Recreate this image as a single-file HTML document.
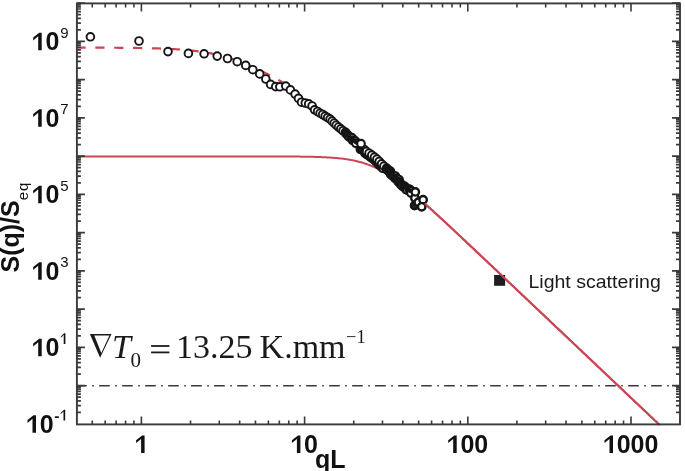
<!DOCTYPE html><html><head><meta charset="utf-8"><style>html,body{margin:0;padding:0;background:#fff;}svg{display:block;filter:blur(0.4px);}</style></head><body><svg width="685" height="471" viewBox="0 0 685 471">
<rect width="685" height="471" fill="#fff"/>
<line x1="76.9" y1="385.7" x2="680" y2="385.7" stroke="#3a3a3a" stroke-width="1.6" stroke-dasharray="10.6 5.5 1.6 5.3" stroke-dashoffset="23.75"/>
<path d="M77.80,47.64 L78.80,47.64 L79.80,47.64 L80.80,47.64 L81.80,47.64 L82.80,47.64 L83.80,47.65 L84.80,47.65 L85.80,47.65 L86.80,47.65 L87.80,47.65 L88.80,47.66 L89.80,47.66 L90.80,47.66 L91.80,47.66 L92.80,47.67 L93.80,47.67 L94.80,47.67 L95.80,47.67 L96.80,47.68 L97.80,47.68 L98.80,47.68 L99.80,47.69 L100.80,47.69 L101.80,47.69 L102.80,47.70 L103.80,47.70 L104.80,47.70 L105.80,47.71 L106.80,47.71 L107.80,47.72 L108.80,47.72 L109.80,47.73 L110.80,47.73 L111.80,47.74 L112.80,47.74 L113.80,47.75 L114.80,47.76 L115.80,47.76 L116.80,47.77 L117.80,47.77 L118.80,47.78 L119.80,47.79 L120.80,47.80 L121.80,47.80 L122.80,47.81 L123.80,47.82 L124.80,47.83 L125.80,47.84 L126.80,47.85 L127.80,47.86 L128.80,47.87 L129.80,47.88 L130.80,47.89 L131.80,47.90 L132.80,47.91 L133.80,47.93 L134.80,47.94 L135.80,47.95 L136.80,47.97 L137.80,47.98 L138.80,48.00 L139.80,48.01 L140.80,48.03 L141.80,48.05 L142.80,48.06 L143.80,48.08 L144.80,48.10 L145.80,48.12 L146.80,48.14 L147.80,48.16 L148.80,48.19 L149.80,48.21 L150.80,48.23 L151.80,48.26 L152.80,48.28 L153.80,48.31 L154.80,48.34 L155.80,48.37 L156.80,48.40 L157.80,48.43 L158.80,48.46 L159.80,48.50 L160.80,48.53 L161.80,48.57 L162.80,48.61 L163.80,48.65 L164.80,48.69 L165.80,48.73 L166.80,48.77 L167.80,48.82 L168.80,48.87 L169.80,48.91 L170.80,48.97 L171.80,49.02 L172.80,49.07 L173.80,49.13 L174.80,49.19 L175.80,49.25 L176.80,49.31 L177.80,49.38 L178.80,49.45 L179.80,49.52 L180.80,49.59 L181.80,49.66 L182.80,49.74 L183.80,49.82 L184.80,49.91 L185.80,49.99 L186.80,50.08 L187.80,50.18 L188.80,50.27 L189.80,50.37 L190.80,50.47 L191.80,50.58 L192.80,50.69 L193.80,50.80 L194.80,50.92 L195.80,51.04 L196.80,51.16 L197.80,51.29 L198.80,51.43 L199.80,51.56 L200.80,51.70 L201.80,51.85 L202.80,52.00 L203.80,52.16 L204.80,52.32 L205.80,52.48 L206.80,52.65 L207.80,52.82 L208.80,53.00 L209.80,53.19 L210.80,53.38 L211.80,53.57 L212.80,53.77 L213.80,53.98 L214.80,54.19 L215.80,54.41 L216.80,54.64 L217.80,54.86 L218.80,55.10 L219.80,55.34 L220.80,55.59 L221.80,55.84 L222.80,56.10 L223.80,56.37 L224.80,56.64 L225.80,56.92 L226.80,57.20 L227.80,57.50 L228.80,57.79 L229.80,58.10 L230.80,58.41 L231.80,58.73 L232.80,59.05 L233.80,59.38 L234.80,59.72 L235.80,60.06 L236.80,60.41 L237.80,60.76 L238.80,61.13 L239.80,61.50 L240.80,61.87 L241.80,62.25 L242.80,62.64 L243.80,63.03 L244.80,63.43 L245.80,63.84 L246.80,64.25 L247.80,64.67 L248.80,65.09 L249.80,65.53 L250.80,65.96 L251.80,66.40 L252.80,66.85 L253.80,67.30 L254.80,67.76 L255.80,68.23 L256.80,68.70 L257.80,69.17 L258.80,69.65 L259.80,70.13 L260.80,70.62 L261.80,71.12 L262.80,71.62 L263.80,72.12 L264.80,72.63 L265.80,73.14 L266.80,73.66 L267.80,74.18 L268.80,74.71 L269.80,75.24 L270.80,75.77 L271.80,76.31 L272.80,76.85 L273.80,77.40 L274.80,77.95 L275.80,78.50 L276.80,79.05 L277.80,79.61 L278.80,80.18 L279.80,80.74 L280.80,81.31 L281.80,81.88 L282.80,82.46 L283.80,83.03 L284.80,83.61 L285.80,84.19" fill="none" stroke="#cb4654" stroke-width="2.2" stroke-dasharray="9.2 9.67" stroke-dashoffset="1.37"/>
<path d="M77.80,156.40 L78.80,156.40 L79.80,156.40 L80.80,156.40 L81.80,156.40 L82.80,156.40 L83.80,156.40 L84.80,156.40 L85.80,156.40 L86.80,156.40 L87.80,156.40 L88.80,156.40 L89.80,156.40 L90.80,156.40 L91.80,156.40 L92.80,156.40 L93.80,156.40 L94.80,156.40 L95.80,156.40 L96.80,156.40 L97.80,156.40 L98.80,156.40 L99.80,156.40 L100.80,156.40 L101.80,156.40 L102.80,156.40 L103.80,156.40 L104.80,156.40 L105.80,156.40 L106.80,156.40 L107.80,156.40 L108.80,156.40 L109.80,156.40 L110.80,156.40 L111.80,156.40 L112.80,156.40 L113.80,156.40 L114.80,156.40 L115.80,156.40 L116.80,156.40 L117.80,156.40 L118.80,156.40 L119.80,156.40 L120.80,156.40 L121.80,156.40 L122.80,156.40 L123.80,156.40 L124.80,156.40 L125.80,156.40 L126.80,156.40 L127.80,156.40 L128.80,156.40 L129.80,156.40 L130.80,156.40 L131.80,156.40 L132.80,156.40 L133.80,156.40 L134.80,156.40 L135.80,156.40 L136.80,156.40 L137.80,156.40 L138.80,156.40 L139.80,156.40 L140.80,156.40 L141.80,156.40 L142.80,156.40 L143.80,156.40 L144.80,156.40 L145.80,156.40 L146.80,156.40 L147.80,156.40 L148.80,156.40 L149.80,156.40 L150.80,156.40 L151.80,156.40 L152.80,156.40 L153.80,156.40 L154.80,156.40 L155.80,156.40 L156.80,156.40 L157.80,156.40 L158.80,156.40 L159.80,156.40 L160.80,156.40 L161.80,156.40 L162.80,156.40 L163.80,156.40 L164.80,156.40 L165.80,156.40 L166.80,156.40 L167.80,156.40 L168.80,156.40 L169.80,156.40 L170.80,156.40 L171.80,156.40 L172.80,156.40 L173.80,156.40 L174.80,156.40 L175.80,156.40 L176.80,156.40 L177.80,156.40 L178.80,156.40 L179.80,156.40 L180.80,156.40 L181.80,156.40 L182.80,156.40 L183.80,156.40 L184.80,156.40 L185.80,156.40 L186.80,156.40 L187.80,156.40 L188.80,156.40 L189.80,156.40 L190.80,156.40 L191.80,156.40 L192.80,156.40 L193.80,156.40 L194.80,156.40 L195.80,156.40 L196.80,156.40 L197.80,156.40 L198.80,156.40 L199.80,156.40 L200.80,156.40 L201.80,156.40 L202.80,156.40 L203.80,156.40 L204.80,156.40 L205.80,156.40 L206.80,156.40 L207.80,156.40 L208.80,156.40 L209.80,156.40 L210.80,156.40 L211.80,156.40 L212.80,156.40 L213.80,156.40 L214.80,156.40 L215.80,156.40 L216.80,156.40 L217.80,156.40 L218.80,156.40 L219.80,156.40 L220.80,156.40 L221.80,156.40 L222.80,156.40 L223.80,156.40 L224.80,156.40 L225.80,156.40 L226.80,156.40 L227.80,156.40 L228.80,156.40 L229.80,156.40 L230.80,156.40 L231.80,156.40 L232.80,156.40 L233.80,156.41 L234.80,156.41 L235.80,156.41 L236.80,156.41 L237.80,156.41 L238.80,156.41 L239.80,156.41 L240.80,156.41 L241.80,156.41 L242.80,156.41 L243.80,156.41 L244.80,156.41 L245.80,156.41 L246.80,156.41 L247.80,156.41 L248.80,156.41 L249.80,156.41 L250.80,156.41 L251.80,156.41 L252.80,156.41 L253.80,156.42 L254.80,156.42 L255.80,156.42 L256.80,156.42 L257.80,156.42 L258.80,156.42 L259.80,156.42 L260.80,156.42 L261.80,156.42 L262.80,156.43 L263.80,156.43 L264.80,156.43 L265.80,156.43 L266.80,156.43 L267.80,156.43 L268.80,156.44 L269.80,156.44 L270.80,156.44 L271.80,156.44 L272.80,156.45 L273.80,156.45 L274.80,156.45 L275.80,156.45 L276.80,156.46 L277.80,156.46 L278.80,156.47 L279.80,156.47 L280.80,156.47 L281.80,156.48 L282.80,156.48 L283.80,156.49 L284.80,156.49 L285.80,156.50 L286.80,156.50 L287.80,156.51 L288.80,156.51 L289.80,156.52 L290.80,156.53 L291.80,156.54 L292.80,156.54 L293.80,156.55 L294.80,156.56 L295.80,156.57 L296.80,156.58 L297.80,156.59 L298.80,156.60 L299.80,156.61 L300.80,156.63 L301.80,156.64 L302.80,156.65 L303.80,156.67 L304.80,156.68 L305.80,156.70 L306.80,156.72 L307.80,156.74 L308.80,156.76 L309.80,156.78 L310.80,156.80 L311.80,156.82 L312.80,156.85 L313.80,156.87 L314.80,156.90 L315.80,156.93 L316.80,156.96 L317.80,156.99 L318.80,157.03 L319.80,157.06 L320.80,157.10 L321.80,157.14 L322.80,157.18 L323.80,157.23 L324.80,157.27 L325.80,157.32 L326.80,157.38 L327.80,157.43 L328.80,157.49 L329.80,157.55 L330.80,157.62 L331.80,157.69 L332.80,157.76 L333.80,157.84 L334.80,157.92 L335.80,158.00 L336.80,158.09 L337.80,158.18 L338.80,158.28 L339.80,158.39 L340.80,158.50 L341.80,158.61 L342.80,158.73 L343.80,158.86 L344.80,158.99 L345.80,159.13 L346.80,159.28 L347.80,159.43 L348.80,159.60 L349.80,159.77 L350.80,159.94 L351.80,160.13 L352.80,160.32 L353.80,160.53 L354.80,160.74 L355.80,160.96 L356.80,161.20 L357.80,161.44 L358.80,161.69 L359.80,161.96 L360.80,162.23 L361.80,162.52 L362.80,162.81 L363.80,163.12 L364.80,163.44 L365.80,163.78 L366.80,164.12 L367.80,164.48 L368.80,164.85 L369.80,165.24 L370.80,165.63 L371.80,166.04 L372.80,166.47 L373.80,166.91 L374.80,167.36 L375.80,167.82 L376.80,168.30 L377.80,168.79 L378.80,169.29 L379.80,169.81 L380.80,170.34 L381.80,170.89 L382.80,171.44 L383.80,172.01 L384.80,172.60 L385.80,173.19 L386.80,173.80 L387.80,174.42 L388.80,175.06 L389.80,175.70 L390.80,176.36 L391.80,177.02 L392.80,177.70 L393.80,178.39 L394.80,179.09 L395.80,179.80 L396.80,180.52 L397.80,181.25 L398.80,181.99 L399.80,182.74 L400.80,183.50 L401.80,184.27 L402.80,185.04 L403.80,185.82 L404.80,186.61 L405.80,187.41 L406.80,188.21 L407.80,189.02 L408.80,189.84 L409.80,190.66 L410.80,191.49 L411.80,192.33 L412.80,193.17 L413.80,194.01 L414.80,194.87 L415.80,195.72 L416.80,196.58 L417.80,197.45 L418.80,198.32 L419.80,199.19 L420.80,200.06 L421.80,200.94 L422.80,201.83 L423.80,202.72 L424.80,203.61 L425.80,204.50 L426.80,205.39 L427.80,206.29 L428.80,207.19 L429.80,208.10 L430.80,209.00 L431.80,209.91 L432.80,210.82 L433.80,211.73 L434.80,212.65 L435.80,213.56 L436.80,214.48 L437.80,215.40 L438.80,216.32 L439.80,217.24 L440.80,218.17 L441.80,219.09 L442.80,220.02 L443.80,220.94 L444.80,221.87 L445.80,222.80 L446.80,223.73 L447.80,224.66 L448.80,225.59 L449.80,226.53 L450.80,227.46 L451.80,228.39 L452.80,229.33 L453.80,230.26 L454.80,231.20 L455.80,232.14 L456.80,233.07 L457.80,234.01 L458.80,234.95 L459.80,235.89 L460.80,236.83 L461.80,237.77 L462.80,238.71 L463.80,239.65 L464.80,240.59 L465.80,241.53 L466.80,242.47 L467.80,243.41 L468.80,244.35 L469.80,245.30 L470.80,246.24 L471.80,247.18 L472.80,248.12 L473.80,249.07 L474.80,250.01 L475.80,250.95 L476.80,251.90 L477.80,252.84 L478.80,253.79 L479.80,254.73 L480.80,255.67 L481.80,256.62 L482.80,257.56 L483.80,258.51 L484.80,259.45 L485.80,260.40 L486.80,261.34 L487.80,262.29 L488.80,263.23 L489.80,264.18 L490.80,265.13 L491.80,266.07 L492.80,267.02 L493.80,267.96 L494.80,268.91 L495.80,269.85 L496.80,270.80 L497.80,271.75 L498.80,272.69 L499.80,273.64 L500.80,274.58 L501.80,275.53 L502.80,276.48 L503.80,277.42 L504.80,278.37 L505.80,279.31 L506.80,280.26 L507.80,281.21 L508.80,282.15 L509.80,283.10 L510.80,284.05 L511.80,284.99 L512.80,285.94 L513.80,286.89 L514.80,287.83 L515.80,288.78 L516.80,289.73 L517.80,290.67 L518.80,291.62 L519.80,292.57 L520.80,293.51 L521.80,294.46 L522.80,295.41 L523.80,296.35 L524.80,297.30 L525.80,298.25 L526.80,299.19 L527.80,300.14 L528.80,301.09 L529.80,302.03 L530.80,302.98 L531.80,303.93 L532.80,304.87 L533.80,305.82 L534.80,306.77 L535.80,307.71 L536.80,308.66 L537.80,309.61 L538.80,310.55 L539.80,311.50 L540.80,312.45 L541.80,313.39 L542.80,314.34 L543.80,315.29 L544.80,316.23 L545.80,317.18 L546.80,318.13 L547.80,319.07 L548.80,320.02 L549.80,320.97 L550.80,321.91 L551.80,322.86 L552.80,323.81 L553.80,324.76 L554.80,325.70 L555.80,326.65 L556.80,327.60 L557.80,328.54 L558.80,329.49 L559.80,330.44 L560.80,331.38 L561.80,332.33 L562.80,333.28 L563.80,334.22 L564.80,335.17 L565.80,336.12 L566.80,337.06 L567.80,338.01 L568.80,338.96 L569.80,339.90 L570.80,340.85 L571.80,341.80 L572.80,342.75 L573.80,343.69 L574.80,344.64 L575.80,345.59 L576.80,346.53 L577.80,347.48 L578.80,348.43 L579.80,349.37 L580.80,350.32 L581.80,351.27 L582.80,352.21 L583.80,353.16 L584.80,354.11 L585.80,355.05 L586.80,356.00 L587.80,356.95 L588.80,357.90 L589.80,358.84 L590.80,359.79 L591.80,360.74 L592.80,361.68 L593.80,362.63 L594.80,363.58 L595.80,364.52 L596.80,365.47 L597.80,366.42 L598.80,367.36 L599.80,368.31 L600.80,369.26 L601.80,370.20 L602.80,371.15 L603.80,372.10 L604.80,373.05 L605.80,373.99 L606.80,374.94 L607.80,375.89 L608.80,376.83 L609.80,377.78 L610.80,378.73 L611.80,379.67 L612.80,380.62 L613.80,381.57 L614.80,382.51 L615.80,383.46 L616.80,384.41 L617.80,385.35 L618.80,386.30 L619.80,387.25 L620.80,388.20 L621.80,389.14 L622.80,390.09 L623.80,391.04 L624.80,391.98 L625.80,392.93 L626.80,393.88 L627.80,394.82 L628.80,395.77 L629.80,396.72 L630.80,397.66 L631.80,398.61 L632.80,399.56 L633.80,400.50 L634.80,401.45 L635.80,402.40 L636.80,403.35 L637.80,404.29 L638.80,405.24 L639.80,406.19 L640.80,407.13 L641.80,408.08 L642.80,409.03 L643.80,409.97 L644.80,410.92 L645.80,411.87 L646.80,412.81 L647.80,413.76 L648.80,414.71 L649.80,415.65 L650.80,416.60 L651.80,417.55 L652.80,418.50 L653.80,419.44 L654.80,420.39 L655.80,421.34 L656.80,422.28 L657.80,423.23 L658.80,424.18 L659.80,424.40" fill="none" stroke="#cb4654" stroke-width="2"/>
<circle cx="90.40" cy="36.80" r="3.85" fill="#fff" stroke="#151515" stroke-width="1.9"/>
<circle cx="139.00" cy="41.00" r="3.85" fill="#fff" stroke="#151515" stroke-width="1.9"/>
<circle cx="168.00" cy="51.60" r="3.85" fill="#fff" stroke="#151515" stroke-width="1.9"/>
<circle cx="188.40" cy="53.40" r="3.85" fill="#fff" stroke="#151515" stroke-width="1.9"/>
<circle cx="204.10" cy="53.80" r="3.85" fill="#fff" stroke="#151515" stroke-width="1.9"/>
<circle cx="217.20" cy="56.10" r="3.85" fill="#fff" stroke="#151515" stroke-width="1.9"/>
<circle cx="227.50" cy="58.50" r="3.85" fill="#fff" stroke="#151515" stroke-width="1.9"/>
<circle cx="237.20" cy="61.70" r="3.85" fill="#fff" stroke="#151515" stroke-width="1.9"/>
<circle cx="245.70" cy="65.40" r="3.85" fill="#fff" stroke="#151515" stroke-width="1.9"/>
<circle cx="252.80" cy="69.70" r="3.85" fill="#fff" stroke="#151515" stroke-width="1.9"/>
<circle cx="259.70" cy="73.90" r="3.85" fill="#fff" stroke="#151515" stroke-width="1.9"/>
<circle cx="265.80" cy="79.00" r="3.85" fill="#fff" stroke="#151515" stroke-width="1.9"/>
<circle cx="270.60" cy="84.40" r="3.85" fill="#fff" stroke="#151515" stroke-width="1.9"/>
<circle cx="275.70" cy="86.60" r="3.85" fill="#fff" stroke="#151515" stroke-width="1.9"/>
<circle cx="279.80" cy="86.80" r="3.85" fill="#fff" stroke="#151515" stroke-width="1.9"/>
<circle cx="285.80" cy="86.10" r="3.85" fill="#fff" stroke="#151515" stroke-width="1.9"/>
<circle cx="290.40" cy="89.90" r="3.85" fill="#fff" stroke="#151515" stroke-width="1.9"/>
<circle cx="295.10" cy="94.10" r="3.85" fill="#fff" stroke="#151515" stroke-width="1.9"/>
<circle cx="298.50" cy="98.40" r="3.85" fill="#fff" stroke="#151515" stroke-width="1.9"/>
<circle cx="301.50" cy="102.20" r="3.85" fill="#fff" stroke="#151515" stroke-width="1.9"/>
<circle cx="305.30" cy="103.00" r="3.85" fill="#fff" stroke="#151515" stroke-width="1.9"/>
<circle cx="308.70" cy="103.90" r="3.85" fill="#fff" stroke="#151515" stroke-width="1.9"/>
<circle cx="312.10" cy="106.00" r="3.85" fill="#fff" stroke="#151515" stroke-width="1.9"/>
<circle cx="314.60" cy="109.80" r="3.85" fill="#fff" stroke="#151515" stroke-width="1.9"/>
<circle cx="317.60" cy="111.50" r="3.85" fill="#fff" stroke="#151515" stroke-width="1.9"/>
<circle cx="320.10" cy="113.20" r="3.85" fill="#fff" stroke="#151515" stroke-width="1.9"/>
<circle cx="322.69" cy="114.50" r="3.85" fill="#fff" stroke="#151515" stroke-width="1.9"/>
<circle cx="325.13" cy="116.08" r="3.85" fill="#fff" stroke="#151515" stroke-width="1.9"/>
<circle cx="327.61" cy="117.57" r="3.85" fill="#fff" stroke="#151515" stroke-width="1.9"/>
<circle cx="330.08" cy="119.08" r="3.85" fill="#fff" stroke="#151515" stroke-width="1.9"/>
<circle cx="332.13" cy="121.13" r="3.85" fill="#fff" stroke="#151515" stroke-width="1.9"/>
<circle cx="334.18" cy="123.18" r="3.85" fill="#fff" stroke="#151515" stroke-width="1.9"/>
<circle cx="336.26" cy="125.21" r="3.85" fill="#fff" stroke="#151515" stroke-width="1.9"/>
<circle cx="338.52" cy="127.02" r="3.85" fill="#fff" stroke="#151515" stroke-width="1.9"/>
<circle cx="340.79" cy="128.83" r="3.85" fill="#fff" stroke="#151515" stroke-width="1.9"/>
<circle cx="342.97" cy="130.74" r="3.85" fill="#fff" stroke="#151515" stroke-width="1.9"/>
<circle cx="345.50" cy="132.26" r="3.8" fill="#fff" stroke="#151515" stroke-width="2.1"/>
<circle cx="346.19" cy="133.73" r="3.8" fill="#fff" stroke="#151515" stroke-width="2.1"/>
<circle cx="347.49" cy="134.56" r="3.8" fill="#fff" stroke="#151515" stroke-width="2.1"/>
<circle cx="348.20" cy="135.96" r="3.8" fill="#fff" stroke="#151515" stroke-width="2.1"/>
<circle cx="349.22" cy="137.06" r="3.8" fill="#fff" stroke="#151515" stroke-width="2.1"/>
<circle cx="351.06" cy="137.23" r="3.8" fill="#fff" stroke="#151515" stroke-width="2.1"/>
<circle cx="352.28" cy="138.08" r="3.8" fill="#fff" stroke="#151515" stroke-width="2.1"/>
<circle cx="352.42" cy="140.30" r="3.8" fill="#fff" stroke="#151515" stroke-width="2.1"/>
<circle cx="354.31" cy="140.33" r="3.8" fill="#fff" stroke="#151515" stroke-width="2.1"/>
<circle cx="355.51" cy="141.21" r="3.8" fill="#fff" stroke="#151515" stroke-width="2.1"/>
<circle cx="355.85" cy="143.31" r="3.8" fill="#fff" stroke="#151515" stroke-width="2.1"/>
<circle cx="360.40" cy="149.40" r="3.8" fill="#fff" stroke="#151515" stroke-width="2.1"/>
<circle cx="364.82" cy="153.09" r="3.8" fill="#fff" stroke="#151515" stroke-width="2.1"/>
<circle cx="366.52" cy="154.28" r="3.8" fill="#fff" stroke="#151515" stroke-width="2.1"/>
<circle cx="363.81" cy="149.18" r="3.85" fill="#fff" stroke="#151515" stroke-width="1.9"/>
<circle cx="368.16" cy="155.43" r="3.8" fill="#fff" stroke="#151515" stroke-width="2.1"/>
<circle cx="366.36" cy="151.36" r="3.85" fill="#fff" stroke="#151515" stroke-width="1.9"/>
<circle cx="369.80" cy="156.58" r="3.8" fill="#fff" stroke="#151515" stroke-width="2.1"/>
<circle cx="371.43" cy="157.72" r="3.8" fill="#fff" stroke="#151515" stroke-width="2.1"/>
<circle cx="369.07" cy="153.26" r="3.85" fill="#fff" stroke="#151515" stroke-width="1.9"/>
<circle cx="373.07" cy="158.87" r="3.8" fill="#fff" stroke="#151515" stroke-width="2.1"/>
<circle cx="371.77" cy="155.15" r="3.85" fill="#fff" stroke="#151515" stroke-width="1.9"/>
<circle cx="374.40" cy="159.86" r="3.8" fill="#fff" stroke="#151515" stroke-width="2.1"/>
<circle cx="375.71" cy="161.17" r="3.8" fill="#fff" stroke="#151515" stroke-width="2.1"/>
<circle cx="374.47" cy="157.04" r="3.85" fill="#fff" stroke="#151515" stroke-width="1.9"/>
<circle cx="377.12" cy="162.58" r="3.8" fill="#fff" stroke="#151515" stroke-width="2.1"/>
<circle cx="378.54" cy="164.00" r="3.8" fill="#fff" stroke="#151515" stroke-width="2.1"/>
<circle cx="376.91" cy="159.12" r="3.85" fill="#fff" stroke="#151515" stroke-width="1.9"/>
<circle cx="379.95" cy="165.41" r="3.8" fill="#fff" stroke="#151515" stroke-width="2.1"/>
<circle cx="381.36" cy="166.82" r="3.8" fill="#fff" stroke="#151515" stroke-width="2.1"/>
<circle cx="379.24" cy="161.45" r="3.85" fill="#fff" stroke="#151515" stroke-width="1.9"/>
<circle cx="382.78" cy="168.24" r="3.8" fill="#fff" stroke="#151515" stroke-width="2.1"/>
<circle cx="381.58" cy="163.78" r="3.85" fill="#fff" stroke="#151515" stroke-width="1.9"/>
<circle cx="383.91" cy="166.12" r="3.85" fill="#fff" stroke="#151515" stroke-width="1.9"/>
<circle cx="386.61" cy="168.09" r="3.8" fill="#fff" stroke="#151515" stroke-width="2.1"/>
<circle cx="386.67" cy="169.62" r="3.8" fill="#fff" stroke="#151515" stroke-width="2.1"/>
<circle cx="388.17" cy="169.92" r="3.8" fill="#fff" stroke="#151515" stroke-width="2.1"/>
<circle cx="388.63" cy="171.10" r="3.8" fill="#fff" stroke="#151515" stroke-width="2.1"/>
<circle cx="390.37" cy="171.18" r="3.8" fill="#fff" stroke="#151515" stroke-width="2.1"/>
<circle cx="390.21" cy="172.92" r="3.8" fill="#fff" stroke="#151515" stroke-width="2.1"/>
<circle cx="390.58" cy="174.24" r="3.8" fill="#fff" stroke="#151515" stroke-width="2.1"/>
<circle cx="392.08" cy="174.47" r="3.8" fill="#fff" stroke="#151515" stroke-width="2.1"/>
<circle cx="392.53" cy="175.71" r="3.8" fill="#fff" stroke="#151515" stroke-width="2.1"/>
<circle cx="393.50" cy="176.43" r="3.8" fill="#fff" stroke="#151515" stroke-width="2.1"/>
<circle cx="395.47" cy="176.17" r="3.8" fill="#fff" stroke="#151515" stroke-width="2.1"/>
<circle cx="395.04" cy="178.29" r="3.8" fill="#fff" stroke="#151515" stroke-width="2.1"/>
<circle cx="396.20" cy="178.83" r="3.8" fill="#fff" stroke="#151515" stroke-width="2.1"/>
<circle cx="397.58" cy="179.15" r="3.8" fill="#fff" stroke="#151515" stroke-width="2.1"/>
<circle cx="398.92" cy="179.50" r="3.8" fill="#fff" stroke="#151515" stroke-width="2.1"/>
<circle cx="398.24" cy="181.88" r="3.8" fill="#fff" stroke="#151515" stroke-width="2.1"/>
<circle cx="399.81" cy="182.01" r="3.8" fill="#fff" stroke="#151515" stroke-width="2.1"/>
<circle cx="400.21" cy="183.31" r="3.8" fill="#fff" stroke="#151515" stroke-width="2.1"/>
<circle cx="400.76" cy="184.46" r="3.8" fill="#fff" stroke="#151515" stroke-width="2.1"/>
<circle cx="401.94" cy="185.00" r="3.8" fill="#fff" stroke="#151515" stroke-width="2.1"/>
<circle cx="402.48" cy="186.20" r="3.8" fill="#fff" stroke="#151515" stroke-width="2.1"/>
<circle cx="404.29" cy="185.99" r="3.8" fill="#fff" stroke="#151515" stroke-width="2.1"/>
<circle cx="404.47" cy="187.58" r="3.8" fill="#fff" stroke="#151515" stroke-width="2.1"/>
<circle cx="405.98" cy="187.69" r="3.8" fill="#fff" stroke="#151515" stroke-width="2.1"/>
<circle cx="406.06" cy="189.48" r="3.8" fill="#fff" stroke="#151515" stroke-width="2.1"/>
<circle cx="407.17" cy="190.12" r="3.8" fill="#fff" stroke="#151515" stroke-width="2.1"/>
<circle cx="409.32" cy="189.15" r="3.8" fill="#fff" stroke="#151515" stroke-width="2.1"/>
<circle cx="410.25" cy="189.92" r="3.8" fill="#fff" stroke="#151515" stroke-width="2.1"/>
<circle cx="411.11" cy="190.78" r="3.8" fill="#fff" stroke="#151515" stroke-width="2.1"/>
<circle cx="410.98" cy="193.06" r="3.8" fill="#fff" stroke="#151515" stroke-width="2.1"/>
<path d="M345.22,132.72 L345.98,133.38 L346.68,134.09 L347.37,134.81 L348.07,135.52 L348.77,136.24 L349.47,136.96 L350.19,137.65 L350.97,138.27 L351.75,138.90 L352.53,139.52 L353.31,140.15 L354.09,140.77 L354.87,141.40 L355.69,141.98 L356.50,142.55 L357.32,143.13" fill="none" stroke="#151515" stroke-width="4.2" stroke-linecap="round"/>
<path d="M387.47,169.20 L388.12,169.96 L388.77,170.72 L389.42,171.47 L390.08,172.23 L390.73,172.99 L391.42,173.72 L392.12,174.42 L392.83,175.13 L393.54,175.84 L394.24,176.54 L394.95,177.25 L395.66,177.96 L396.37,178.67 L397.07,179.37 L397.78,180.08 L398.49,180.79 L399.19,181.49 L399.90,182.20 L400.61,182.91 L401.31,183.61 L402.02,184.32 L402.77,184.99 L403.51,185.66 L404.25,186.33 L405.00,187.00 L405.74,187.67 L406.48,188.33 L407.25,188.97 L408.07,189.55 L408.89,190.12 L409.71,190.69" fill="none" stroke="#151515" stroke-width="4.2" stroke-linecap="round"/>
<circle cx="361.00" cy="143.70" r="3.8" fill="#fff" stroke="#151515" stroke-width="2.1"/>
<circle cx="360.2" cy="150.2" r="3.6" fill="#151515"/>
<circle cx="414.60" cy="205.50" r="3.7" fill="#222" stroke="#151515" stroke-width="2.4"/>
<circle cx="414.90" cy="198.00" r="3.7" fill="#fff" stroke="#151515" stroke-width="2.4"/>
<circle cx="418.30" cy="202.20" r="3.7" fill="#fff" stroke="#151515" stroke-width="2.4"/>
<circle cx="415.30" cy="191.90" r="3.7" fill="#fff" stroke="#151515" stroke-width="2.4"/>
<circle cx="423.10" cy="199.70" r="3.7" fill="#fff" stroke="#151515" stroke-width="2.4"/>
<circle cx="421.70" cy="206.80" r="3.7" fill="#fff" stroke="#151515" stroke-width="2.4"/>
<rect x="494.1" y="275" width="11" height="10.8" fill="#1e1e1e"/>
<path d="M424.80,203.61 L425.80,204.50 L426.80,205.39 L427.80,206.29 L428.80,207.19 L429.80,208.10 L430.80,209.00 L431.80,209.91 L432.80,210.82 L433.80,211.73 L434.80,212.65 L435.80,213.56 L436.80,214.48 L437.80,215.40 L438.80,216.32 L439.80,217.24 L440.80,218.17 L441.80,219.09 L442.80,220.02 L443.80,220.94 L444.80,221.87 L445.80,222.80 L446.80,223.73 L447.80,224.66 L448.80,225.59 L449.80,226.53 L450.80,227.46 L451.80,228.39 L452.80,229.33 L453.80,230.26 L454.80,231.20 L455.80,232.14 L456.80,233.07 L457.80,234.01 L458.80,234.95 L459.80,235.89 L460.80,236.83 L461.80,237.77 L462.80,238.71 L463.80,239.65 L464.80,240.59 L465.80,241.53 L466.80,242.47 L467.80,243.41 L468.80,244.35 L469.80,245.30 L470.80,246.24 L471.80,247.18 L472.80,248.12 L473.80,249.07 L474.80,250.01 L475.80,250.95 L476.80,251.90 L477.80,252.84 L478.80,253.79 L479.80,254.73 L480.80,255.67 L481.80,256.62 L482.80,257.56 L483.80,258.51 L484.80,259.45 L485.80,260.40 L486.80,261.34 L487.80,262.29 L488.80,263.23 L489.80,264.18 L490.80,265.13 L491.80,266.07 L492.80,267.02 L493.80,267.96 L494.80,268.91 L495.80,269.85 L496.80,270.80 L497.80,271.75 L498.80,272.69 L499.80,273.64 L500.80,274.58 L501.80,275.53 L502.80,276.48 L503.80,277.42 L504.80,278.37 L505.80,279.31 L506.80,280.26 L507.80,281.21 L508.80,282.15 L509.80,283.10 L510.80,284.05 L511.80,284.99 L512.80,285.94 L513.80,286.89 L514.80,287.83 L515.80,288.78 L516.80,289.73 L517.80,290.67 L518.80,291.62 L519.80,292.57 L520.80,293.51 L521.80,294.46 L522.80,295.41 L523.80,296.35 L524.80,297.30 L525.80,298.25 L526.80,299.19 L527.80,300.14 L528.80,301.09 L529.80,302.03 L530.80,302.98 L531.80,303.93 L532.80,304.87 L533.80,305.82 L534.80,306.77 L535.80,307.71 L536.80,308.66 L537.80,309.61 L538.80,310.55 L539.80,311.50 L540.80,312.45 L541.80,313.39 L542.80,314.34 L543.80,315.29 L544.80,316.23 L545.80,317.18 L546.80,318.13 L547.80,319.07 L548.80,320.02 L549.80,320.97 L550.80,321.91 L551.80,322.86 L552.80,323.81 L553.80,324.76 L554.80,325.70 L555.80,326.65 L556.80,327.60 L557.80,328.54 L558.80,329.49 L559.80,330.44 L560.80,331.38 L561.80,332.33 L562.80,333.28 L563.80,334.22 L564.80,335.17 L565.80,336.12 L566.80,337.06 L567.80,338.01 L568.80,338.96 L569.80,339.90 L570.80,340.85 L571.80,341.80 L572.80,342.75 L573.80,343.69 L574.80,344.64 L575.80,345.59 L576.80,346.53 L577.80,347.48 L578.80,348.43 L579.80,349.37 L580.80,350.32 L581.80,351.27 L582.80,352.21 L583.80,353.16 L584.80,354.11 L585.80,355.05 L586.80,356.00 L587.80,356.95 L588.80,357.90 L589.80,358.84 L590.80,359.79 L591.80,360.74 L592.80,361.68 L593.80,362.63 L594.80,363.58 L595.80,364.52 L596.80,365.47 L597.80,366.42 L598.80,367.36 L599.80,368.31 L600.80,369.26 L601.80,370.20 L602.80,371.15 L603.80,372.10 L604.80,373.05 L605.80,373.99 L606.80,374.94 L607.80,375.89 L608.80,376.83 L609.80,377.78 L610.80,378.73 L611.80,379.67 L612.80,380.62 L613.80,381.57 L614.80,382.51 L615.80,383.46 L616.80,384.41 L617.80,385.35 L618.80,386.30 L619.80,387.25 L620.80,388.20 L621.80,389.14 L622.80,390.09 L623.80,391.04 L624.80,391.98 L625.80,392.93 L626.80,393.88 L627.80,394.82 L628.80,395.77 L629.80,396.72 L630.80,397.66 L631.80,398.61 L632.80,399.56 L633.80,400.50 L634.80,401.45 L635.80,402.40 L636.80,403.35 L637.80,404.29 L638.80,405.24 L639.80,406.19 L640.80,407.13 L641.80,408.08 L642.80,409.03 L643.80,409.97 L644.80,410.92 L645.80,411.87 L646.80,412.81 L647.80,413.76 L648.80,414.71 L649.80,415.65 L650.80,416.60 L651.80,417.55 L652.80,418.50 L653.80,419.44 L654.80,420.39 L655.80,421.34 L656.80,422.28 L657.80,423.23 L658.80,424.18 L659.80,424.40" fill="none" stroke="#cb4654" stroke-width="2"/>
<text transform="translate(528.5,287.7) scale(1.035,1)" x="0" y="0" font-family="Liberation Sans" font-size="18.85" fill="#1a1a1a">Light scattering</text>
<path d="M92.27,424.4v-4M92.27,3.4v4M105.19,424.4v-4M105.19,3.4v4M116.12,424.4v-4M116.12,3.4v4M125.58,424.4v-4M125.58,3.4v4M133.93,424.4v-4M133.93,3.4v4M141.40,424.4v-8M141.40,3.4v8M190.53,424.4v-4M190.53,3.4v4M219.27,424.4v-4M219.27,3.4v4M239.66,424.4v-4M239.66,3.4v4M255.47,424.4v-4M255.47,3.4v4M268.39,424.4v-4M268.39,3.4v4M279.32,424.4v-4M279.32,3.4v4M288.78,424.4v-4M288.78,3.4v4M297.13,424.4v-4M297.13,3.4v4M304.60,424.4v-8M304.60,3.4v8M353.73,424.4v-4M353.73,3.4v4M382.47,424.4v-4M382.47,3.4v4M402.86,424.4v-4M402.86,3.4v4M418.67,424.4v-4M418.67,3.4v4M431.59,424.4v-4M431.59,3.4v4M442.52,424.4v-4M442.52,3.4v4M451.98,424.4v-4M451.98,3.4v4M460.33,424.4v-4M460.33,3.4v4M467.80,424.4v-8M467.80,3.4v8M516.93,424.4v-4M516.93,3.4v4M545.67,424.4v-4M545.67,3.4v4M566.06,424.4v-4M566.06,3.4v4M581.87,424.4v-4M581.87,3.4v4M594.79,424.4v-4M594.79,3.4v4M605.72,424.4v-4M605.72,3.4v4M615.18,424.4v-4M615.18,3.4v4M623.53,424.4v-4M623.53,3.4v4M631.00,424.4v-8M631.00,3.4v8M76.9,412.39h4M680,412.39h-4M76.9,405.65h4M680,405.65h-4M76.9,400.87h4M680,400.87h-4M76.9,397.16h4M680,397.16h-4M76.9,394.14h4M680,394.14h-4M76.9,391.57h4M680,391.57h-4M76.9,389.36h4M680,389.36h-4M76.9,387.40h4M680,387.40h-4M76.9,385.65h8M680,385.65h-8M76.9,374.14h4M680,374.14h-4M76.9,367.40h4M680,367.40h-4M76.9,362.62h4M680,362.62h-4M76.9,358.91h4M680,358.91h-4M76.9,355.89h4M680,355.89h-4M76.9,353.32h4M680,353.32h-4M76.9,351.11h4M680,351.11h-4M76.9,349.15h4M680,349.15h-4M76.9,347.40h8M680,347.40h-8M76.9,335.89h4M680,335.89h-4M76.9,329.15h4M680,329.15h-4M76.9,324.37h4M680,324.37h-4M76.9,320.66h4M680,320.66h-4M76.9,317.64h4M680,317.64h-4M76.9,315.07h4M680,315.07h-4M76.9,312.86h4M680,312.86h-4M76.9,310.90h4M680,310.90h-4M76.9,309.15h8M680,309.15h-8M76.9,297.64h4M680,297.64h-4M76.9,290.90h4M680,290.90h-4M76.9,286.12h4M680,286.12h-4M76.9,282.41h4M680,282.41h-4M76.9,279.39h4M680,279.39h-4M76.9,276.82h4M680,276.82h-4M76.9,274.61h4M680,274.61h-4M76.9,272.65h4M680,272.65h-4M76.9,270.90h8M680,270.90h-8M76.9,259.39h4M680,259.39h-4M76.9,252.65h4M680,252.65h-4M76.9,247.87h4M680,247.87h-4M76.9,244.16h4M680,244.16h-4M76.9,241.14h4M680,241.14h-4M76.9,238.57h4M680,238.57h-4M76.9,236.36h4M680,236.36h-4M76.9,234.40h4M680,234.40h-4M76.9,232.65h8M680,232.65h-8M76.9,221.14h4M680,221.14h-4M76.9,214.40h4M680,214.40h-4M76.9,209.62h4M680,209.62h-4M76.9,205.91h4M680,205.91h-4M76.9,202.89h4M680,202.89h-4M76.9,200.32h4M680,200.32h-4M76.9,198.11h4M680,198.11h-4M76.9,196.15h4M680,196.15h-4M76.9,194.40h8M680,194.40h-8M76.9,182.89h4M680,182.89h-4M76.9,176.15h4M680,176.15h-4M76.9,171.37h4M680,171.37h-4M76.9,167.66h4M680,167.66h-4M76.9,164.64h4M680,164.64h-4M76.9,162.07h4M680,162.07h-4M76.9,159.86h4M680,159.86h-4M76.9,157.90h4M680,157.90h-4M76.9,156.15h8M680,156.15h-8M76.9,144.64h4M680,144.64h-4M76.9,137.90h4M680,137.90h-4M76.9,133.12h4M680,133.12h-4M76.9,129.41h4M680,129.41h-4M76.9,126.39h4M680,126.39h-4M76.9,123.82h4M680,123.82h-4M76.9,121.61h4M680,121.61h-4M76.9,119.65h4M680,119.65h-4M76.9,117.90h8M680,117.90h-8M76.9,106.39h4M680,106.39h-4M76.9,99.65h4M680,99.65h-4M76.9,94.87h4M680,94.87h-4M76.9,91.16h4M680,91.16h-4M76.9,88.14h4M680,88.14h-4M76.9,85.57h4M680,85.57h-4M76.9,83.36h4M680,83.36h-4M76.9,81.40h4M680,81.40h-4M76.9,79.65h8M680,79.65h-8M76.9,68.14h4M680,68.14h-4M76.9,61.40h4M680,61.40h-4M76.9,56.62h4M680,56.62h-4M76.9,52.91h4M680,52.91h-4M76.9,49.89h4M680,49.89h-4M76.9,47.32h4M680,47.32h-4M76.9,45.11h4M680,45.11h-4M76.9,43.15h4M680,43.15h-4M76.9,41.40h8M680,41.40h-8M76.9,29.89h4M680,29.89h-4M76.9,23.15h4M680,23.15h-4M76.9,18.37h4M680,18.37h-4M76.9,14.66h4M680,14.66h-4M76.9,11.64h4M680,11.64h-4M76.9,9.07h4M680,9.07h-4M76.9,6.86h4M680,6.86h-4M76.9,4.90h4M680,4.90h-4M76.9,3.15h8M680,3.15h-8" stroke="#3a3a3a" stroke-width="1.6" fill="none"/>
<rect x="76.9" y="3.4" width="603.1" height="421.0" fill="none" stroke="#3a3a3a" stroke-width="1.9"/>
<text x="45.40" y="50.20" font-family="Liberation Sans" font-size="25" font-weight="bold" fill="#111">0</text>
<text x="60.20" y="37.90" font-family="Liberation Sans" font-size="15" fill="#111">9</text>
<text x="45.40" y="126.70" font-family="Liberation Sans" font-size="25" font-weight="bold" fill="#111">0</text>
<text x="60.20" y="114.40" font-family="Liberation Sans" font-size="15" fill="#111">7</text>
<text x="45.40" y="203.20" font-family="Liberation Sans" font-size="25" font-weight="bold" fill="#111">0</text>
<text x="60.20" y="190.90" font-family="Liberation Sans" font-size="15" fill="#111">5</text>
<text x="45.40" y="279.70" font-family="Liberation Sans" font-size="25" font-weight="bold" fill="#111">0</text>
<text x="60.20" y="267.40" font-family="Liberation Sans" font-size="15" fill="#111">3</text>
<text x="45.40" y="356.20" font-family="Liberation Sans" font-size="25" font-weight="bold" fill="#111">0</text>
<text x="39.70" y="432.70" font-family="Liberation Sans" font-size="25" font-weight="bold" fill="#111">0</text>
<rect x="54.9" y="416.30" width="4" height="1.7" fill="#111"/>
<text x="304.10" y="452.9" font-family="Liberation Sans" font-size="25" font-weight="bold" fill="#111">0</text>
<text x="460.40" y="452.9" font-family="Liberation Sans" font-size="25" font-weight="bold" fill="#111">00</text>
<text x="616.70" y="452.9" font-family="Liberation Sans" font-size="25" font-weight="bold" fill="#111">000</text>
<path d="M38.20,50.20H41.70V32.70H39.25L33.20,37.60V40.40L38.20,36.35ZM38.20,126.70H41.70V109.20H39.25L33.20,114.10V116.90L38.20,112.85ZM38.20,203.20H41.70V185.70H39.25L33.20,190.60V193.40L38.20,189.35ZM38.20,279.70H41.70V262.20H39.25L33.20,267.10V269.90L38.20,265.85ZM38.20,356.20H41.70V338.70H39.25L33.20,343.60V346.40L38.20,342.35ZM63.70,343.90H65.40V333.30H64.21L60.80,336.50V337.80L63.70,335.08ZM32.50,432.70H36.00V415.20H33.55L27.50,420.10V422.90L32.50,418.85ZM63.50,420.40H65.20V409.80H64.01L60.60,413.00V414.30L63.50,411.58ZM141.10,452.90H144.60V435.40H142.15L136.10,440.30V443.10L141.10,439.05ZM296.90,452.90H300.40V435.40H297.95L291.90,440.30V443.10L296.90,439.05ZM453.20,452.90H456.70V435.40H454.25L448.20,440.30V443.10L453.20,439.05ZM609.50,452.90H613.00V435.40H610.55L604.50,440.30V443.10L609.50,439.05Z" fill="#111"/>
<text x="315" y="467.9" font-family="Liberation Sans" font-size="25" font-weight="bold" fill="#111">qL</text>
<g transform="translate(19.3,272.5) rotate(-90)"><text x="0" y="0" font-family="Liberation Sans" font-size="25" font-weight="bold" fill="#111">S(q)/S<tspan font-size="15" font-weight="normal" dy="8.2" letter-spacing="1">eq</tspan></text></g>
<path d="M89.9,333.9 L111.5,333.9 L100.1,357.8 Z M94.3,335.5 L109.4,335.5 L101.3,353 Z" fill="#1a1a1a" fill-rule="evenodd"/>
<text x="112" y="357.9" font-family="Liberation Serif" font-size="34" font-style="italic" fill="#1a1a1a">T</text>
<text x="130.5" y="367" font-family="Liberation Serif" font-size="21" fill="#1a1a1a">0</text>
<rect x="151.1" y="345.1" width="18.3" height="1.8" fill="#1a1a1a"/><rect x="151.1" y="351.5" width="18.3" height="1.8" fill="#1a1a1a"/>
<text x="176" y="358.2" font-family="Liberation Serif" font-size="34" fill="#1a1a1a">13.25</text>
<text x="259.6" y="358.2" font-family="Liberation Serif" font-size="34" fill="#1a1a1a">K.mm</text>
<text x="346" y="343.3" font-family="Liberation Serif" font-size="18.5" fill="#1a1a1a">−1</text>
</svg></body></html>
